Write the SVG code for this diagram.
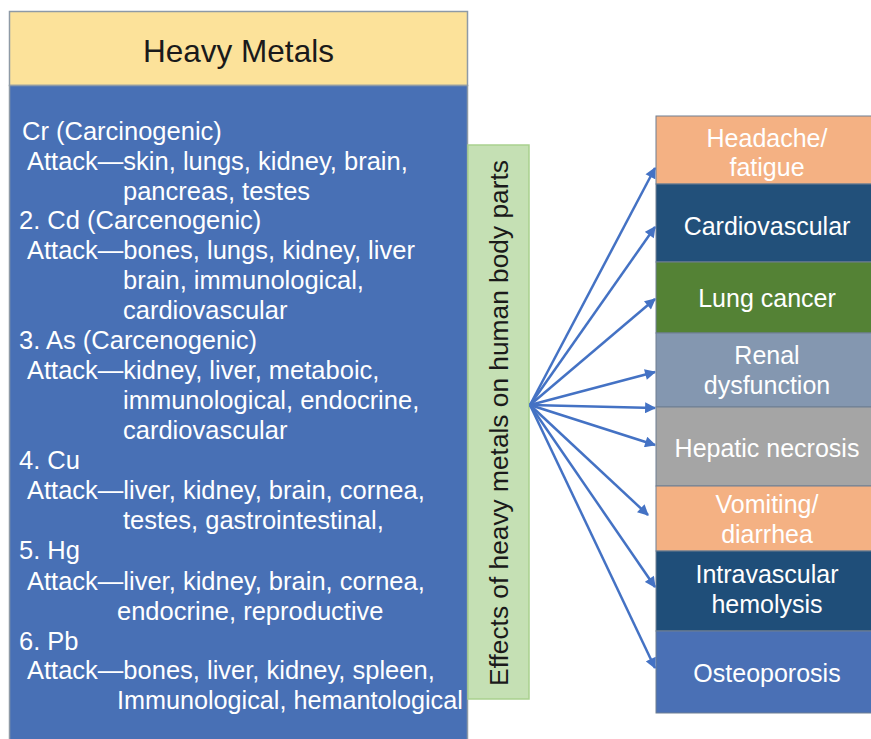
<svg xmlns="http://www.w3.org/2000/svg" width="871" height="739" viewBox="0 0 871 739">
<defs>
<style>
.t{font-family:"Liberation Sans",Arial,sans-serif;}
.body{font-size:25.5px;fill:#ffffff;}
.rt{font-size:25px;fill:#ffffff;text-anchor:middle;}
.box{stroke:#6f7f92;stroke-width:1;}
.arr{stroke:#4472C4;stroke-width:2.5;fill:none;marker-end:url(#ah);}
</style>
<marker id="ah" viewBox="0 0 10 10" refX="9" refY="5" markerWidth="4.8" markerHeight="4.4" orient="auto" markerUnits="strokeWidth">
<path d="M0,0 L10,5 L0,10 Z" fill="#4472C4"/>
</marker>
</defs>
<rect width="871" height="739" fill="#ffffff"/>

<g id="heavy-metals">
<rect x="9.5" y="11.5" width="458" height="74" fill="#FCE29A" stroke="#8e9aa6" stroke-width="1.5"/>
<text class="t" x="238.5" y="62" font-size="31.5" text-anchor="middle" fill="#1a1a1a">Heavy Metals</text>
<rect x="9.5" y="85.5" width="458" height="660" fill="#4870B5" stroke="#8e9aa6" stroke-width="1.5"/>
<g class="t body">
<text x="22" y="140">Cr (Carcinogenic)</text>
<text x="27" y="170">Attack—skin, lungs, kidney, brain,</text>
<text x="123" y="200">pancreas, testes</text>
<text x="19" y="229">2. Cd (Carcenogenic)</text>
<text x="27" y="259">Attack—bones, lungs, kidney, liver</text>
<text x="123" y="289">brain, immunological,</text>
<text x="123" y="319">cardiovascular</text>
<text x="19" y="349">3. As (Carcenogenic)</text>
<text x="27" y="379">Attack—kidney, liver, metaboic,</text>
<text x="123" y="409">immunological, endocrine,</text>
<text x="123" y="439">cardiovascular</text>
<text x="19" y="469">4. Cu</text>
<text x="27" y="499">Attack—liver, kidney, brain, cornea,</text>
<text x="123" y="529">testes, gastrointestinal,</text>
<text x="19" y="559">5. Hg</text>
<text x="27" y="590">Attack—liver, kidney, brain, cornea,</text>
<text x="117" y="620">endocrine, reproductive</text>
<text x="19" y="650">6. Pb</text>
<text x="27" y="679">Attack—bones, liver, kidney, spleen,</text>
<text x="117" y="709" font-size="25.2">Immunological, hemantological</text>
</g>
</g>

<g id="effects">
<rect x="468" y="145" width="61" height="554" fill="#C5E0B4" stroke="#A9D18E" stroke-width="1.5"/>
<text class="t" transform="translate(508,423) rotate(-90)" font-size="26.3" text-anchor="middle" fill="#1a1a1a">Effects of heavy metals on human body parts</text>
</g>

<g id="headache">
<rect class="box" x="656" y="116" width="220" height="68" fill="#F4B183"/>
<text class="t rt" x="767" y="147">Headache/</text>
<text class="t rt" x="767" y="176">fatigue</text>
</g>
<g id="cardiovascular">
<rect class="box" x="656" y="184" width="220" height="78" fill="#22507A"/>
<text class="t rt" x="767" y="235">Cardiovascular</text>
</g>
<g id="lung-cancer">
<rect class="box" x="656" y="262" width="220" height="71" fill="#548235"/>
<text class="t rt" x="767" y="307">Lung cancer</text>
</g>
<g id="renal">
<rect class="box" x="656" y="333" width="220" height="74" fill="#8497B0"/>
<text class="t rt" x="767" y="364">Renal</text>
<text class="t rt" x="767" y="394">dysfunction</text>
</g>
<g id="hepatic">
<rect class="box" x="656" y="407" width="220" height="79" fill="#A5A5A5"/>
<text class="t rt" x="767" y="457">Hepatic necrosis</text>
</g>
<g id="vomiting">
<rect class="box" x="656" y="486" width="220" height="65" fill="#F4B183"/>
<text class="t rt" x="767" y="513">Vomiting/</text>
<text class="t rt" x="767" y="543">diarrhea</text>
</g>
<g id="intravascular">
<rect class="box" x="656" y="551" width="220" height="80" fill="#1F4E79"/>
<text class="t rt" x="767" y="583">Intravascular</text>
<text class="t rt" x="767" y="613">hemolysis</text>
</g>
<g id="osteoporosis">
<rect class="box" x="656" y="631" width="220" height="82" fill="#4A70B5"/>
<text class="t rt" x="767" y="682">Osteoporosis</text>
</g>

<g id="connectors">
<line class="arr" x1="530" y1="405" x2="655" y2="168"/>
<line class="arr" x1="530" y1="405" x2="655" y2="227"/>
<line class="arr" x1="530" y1="405" x2="655" y2="299"/>
<line class="arr" x1="530" y1="405" x2="655" y2="372"/>
<line class="arr" x1="530" y1="405" x2="655" y2="408"/>
<line class="arr" x1="530" y1="405" x2="655" y2="445"/>
<line class="arr" x1="530" y1="405" x2="648" y2="515"/>
<line class="arr" x1="530" y1="405" x2="655" y2="587"/>
<line class="arr" x1="530" y1="405" x2="655" y2="668"/>
</g>
</svg>
